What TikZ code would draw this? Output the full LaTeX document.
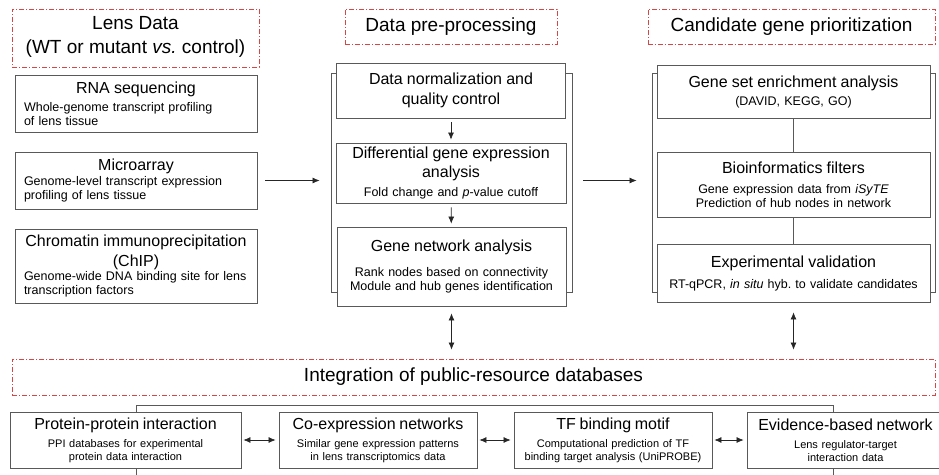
\documentclass[tikz,border=0pt]{standalone}
\usepackage{fontspec}
\setmainfont{Liberation Sans}
\usetikzlibrary{arrows.meta}
\definecolor{headred}{RGB}{214,70,70}
\newcommand\headfont{\fontsize{19}{24}\selectfont}
\newcommand\titlefont{\fontsize{16}{19.5}\selectfont}
\newcommand\subfont{\fontsize{12.5}{14}\selectfont}
\newcommand\smallfont{\fontsize{11}{12.5}\selectfont}
\newcommand\boxtitle[2][4pt]{{\centering\titlefont #2\par}\vskip#1}
\tikzset{
  head/.style={draw=headred, line width=.8pt, dash pattern=on 5pt off 2pt on 1pt off 2pt, align=center, font=\headfont, inner sep=0pt},
  panel/.style={draw=black!65, line width=.8pt, fill=white, inner xsep=4pt, inner ysep=0pt, align=center, font=\subfont},
  frame/.style={draw=black!65, line width=.8pt, inner sep=0pt},
  arr/.style={-{Latex[length=7pt,width=6pt]}, line width=.7pt, black!85},
  dblarr/.style={{Latex[length=7pt,width=6pt]}-{Latex[length=7pt,width=6pt]}, line width=.7pt, black!85},
}

\begin{document}
\begin{tikzpicture}[x=1pt,y=-1pt]
		%%%%% START %%%%%
		\useasboundingbox (0,0) rectangle (939,474);
		\clip (0,0) rectangle (939,474);
		
		\node[head, minimum width=247, minimum height=58, text depth=6pt] (lenshead) at (135.5,38) {Lens Data\\(WT or mutant \textit{vs.}\ control)};
		\node[head, minimum width=212, minimum height=35] (prehead) at (451,26.5) {Data pre-processing};
		\node[head, minimum width=287, minimum height=35] (candhead) at (791.5,26.5) {Candidate gene prioritization};
		
		\node[panel, align=left, inner xsep=9pt, text width=224pt, minimum height=57] (rna) at (136,103.5) {\boxtitle{RNA sequencing}Whole-genome transcript profiling\\of lens tissue};
		\node[panel, align=left, inner xsep=9pt, text width=224pt, minimum height=57] (micro) at (136,180.5) {\boxtitle[1pt]{Microarray}Genome-level transcript expression\\profiling of lens tissue};
		\node[panel, align=left, inner xsep=9pt, text width=224pt, minimum height=74] (chip) at (136,266) {\boxtitle[0pt]{Chromatin immunoprecipitation\\(ChIP)}Genome-wide DNA binding site for lens\\transcription factors};
		
		\node[frame, minimum width=241, minimum height=219] (midfr) at (451.5,182.5) {};
		\node[panel, text width=221pt, minimum height=55] (norm) at (451,90.5) {\boxtitle[0pt]{Data normalization and\\quality control}};
		\node[panel, text width=222pt, minimum height=60] (diff) at (451,173) {\boxtitle[5pt]{Differential gene expression\\analysis}Fold change and \textit{p}-value cutoff};
		\node[panel, text width=221pt, minimum height=79] (gene) at (451.5,266.5) {\boxtitle[11pt]{Gene network analysis}Rank nodes based on connectivity\\Module and hub genes identification};
		
		\node[frame, minimum width=283, minimum height=219] (rightfr) at (793.5,182.5) {};
		\node[panel, text width=265pt, minimum height=53] (gsea) at (793.5,91.5) {\boxtitle{Gene set enrichment analysis}(DAVID, KEGG, GO)};
		\node[panel, text width=265pt, minimum height=65] (bio) at (793.5,184.5) {\boxtitle[6pt]{Bioinformatics filters}Gene expression data from \textit{iSyTE}\\Prediction of hub nodes in network};
		\node[panel, text width=265pt, minimum height=58] (exp) at (793.5,273) {\boxtitle[7pt]{Experimental validation}RT-qPCR, \textit{in situ} hyb.\ to validate candidates};
		
		\draw[arr, shorten <=8pt, shorten >=11pt] (micro.east) -- (micro.east -| midfr.west);
		\draw[arr, shorten <=11pt, shorten >=15pt] (midfr.east |- micro.east) -- (micro.east -| rightfr.west);
		\draw[arr, shorten <=4pt, shorten >=3pt] (norm) -- (diff);
		\draw[arr, shorten <=4pt, shorten >=3pt] (diff) -- (gene);
		\draw[line width=.8pt, black!65] (gsea) -- (bio);
		\draw[line width=.8pt, black!65] (bio) -- (exp);
		
		\node[head, minimum width=923, minimum height=36] (integ) at (473.5,377) {Integration of public-resource databases};
		\draw[dblarr, shorten <=7pt, shorten >=9pt] (gene.south) -- (gene.south |- integ.north);
		\draw[dblarr, shorten <=10pt, shorten >=9pt] (exp.south) -- (exp.south |- integ.north);
		
		\node[frame, minimum width=697, minimum height=95] (dbfr) at (484.5,452.5) {};
		\node[panel, font=\smallfont, text width=223pt, minimum height=56] (ppi) at (125.5,440) {\boxtitle[6pt]{Protein-protein interaction}PPI databases for experimental\\protein data interaction};
		\node[panel, font=\smallfont, text width=190pt, minimum height=56] (coexp) at (378,440) {\boxtitle[6pt]{Co-expression networks}Similar gene expression patterns\\in lens transcriptomics data};
		\node[panel, font=\smallfont, text width=190pt, minimum height=56] (tfbm) at (613,440) {\boxtitle[6pt]{TF binding motif}Computational prediction of TF\\binding target analysis (UniPROBE)};
		\node[panel, font=\smallfont, text width=189pt, minimum height=56] (evid) at (845.5,440) {\boxtitle[6pt]{Evidence-based network}Lens regulator-target\\interaction data};
		
		\draw[dblarr, shorten <=2pt, shorten >=3pt] (ppi) -- (coexp);
		\draw[dblarr, shorten <=2pt, shorten >=3pt] (coexp) -- (tfbm);
		\draw[dblarr, shorten <=2pt, shorten >=3pt] (tfbm) -- (evid);
		%%%%% END %%%%%
\end{tikzpicture}
\end{document}
